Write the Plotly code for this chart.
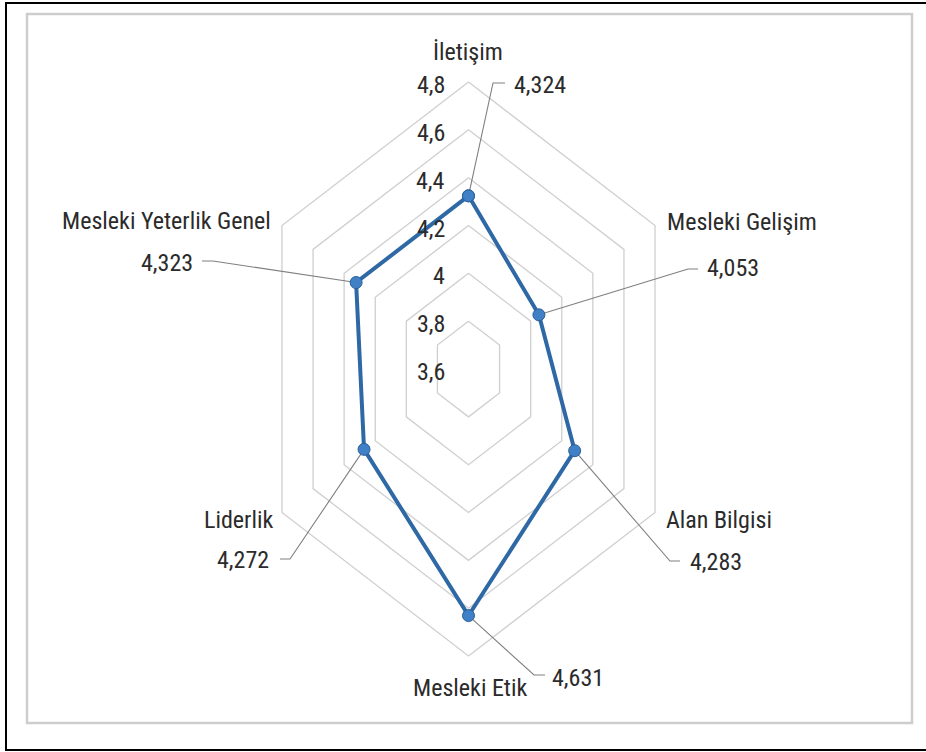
import math
import plotly.graph_objects as go

# ---- data ----
categories = ["İletişim", "Mesleki Gelişim", "Alan Bilgisi", "Mesleki Etik", "Liderlik", "Mesleki Yeterlik Genel"]
values = [4.324, 4.053, 4.283, 4.631, 4.272, 4.323]
value_labels = ["4,324", "4,053", "4,283", "4,631", "4,272", "4,323"]
tick_values = [3.8, 4.0, 4.2, 4.4, 4.6, 4.8]
tick_labels = ["3,6", "3,8", "4", "4,2", "4,4", "4,6", "4,8"]
tick_label_values = [3.6, 3.8, 4.0, 4.2, 4.4, 4.6, 4.8]
r_min, r_max = 3.6, 4.8

# ---- layout / style (pixels) ----
W, H = 926, 752
CX, CY = 468.5, 369.0     # chart centre in pixels
RY = 287.0                # vertical pixel radius of outer ring
RX = 215.4                # horizontal pixel scale (chart is horizontally compressed)
FONT = "Liberation Sans Narrow, Arial Narrow, Roboto Condensed, Roboto, sans-serif"
TXT = "#2b2b2b"
GRID = "#cfcfcf"
LINE = "#2e69a6"
MARK = "#3f80c6"
LEAD = "#7f7f7f"

# category label positions (pixel anchor, xanchor)
cat_pos = [(468, 52, "center"), (665, 222, "left"), (664, 520, "left"),
           (470, 688, "center"), (275, 520, "right"), (273, 221, "right")]
# value label positions
val_pos = [(512, 85, "left"), (705, 268, "left"), (688, 562, "left"),
           (550, 678, "left"), (271, 560, "right"), (195, 263, "right")]
# leader line elbow & end in pixels
lead_pts = [[(493, 83), (505, 83)], [(688, 269), (698, 269)], [(670, 561), (680, 561)],
            [(534, 675), (545, 675)], [(290, 559), (280, 559)], [(213, 261), (202, 261)]]

n = len(categories)
angles = [math.radians(360 * i / n) for i in range(n)]


def to_xy(v, a):
    rho = (v - r_min) / (r_max - r_min)
    return rho * math.sin(a), rho * math.cos(a)


def px_to_xy(px, py):
    return (px - CX) / RX, (CY - py) / RY


fig = go.Figure()

# grid hexagons
for tv in tick_values:
    pts = [to_xy(tv, a) for a in angles] + [to_xy(tv, angles[0])]
    fig.add_trace(go.Scatter(x=[p[0] for p in pts], y=[p[1] for p in pts], mode="lines",
                             line=dict(color=GRID, width=1.3), hoverinfo="skip", showlegend=False))

# leader lines
for i in range(n):
    x0, y0 = to_xy(values[i], angles[i])
    pts = [(x0, y0)] + [px_to_xy(*p) for p in lead_pts[i]]
    fig.add_trace(go.Scatter(x=[p[0] for p in pts], y=[p[1] for p in pts], mode="lines",
                             line=dict(color=LEAD, width=1.1), hoverinfo="skip", showlegend=False))

# series
sp = [to_xy(v, a) for v, a in zip(values, angles)]
sp.append(sp[0])
fig.add_trace(go.Scatter(x=[p[0] for p in sp], y=[p[1] for p in sp], mode="lines+markers",
                         line=dict(color=LINE, width=4),
                         marker=dict(size=12, color=MARK, line=dict(color="#2a5f98", width=1)),
                         showlegend=False))

ann = []
for (px, py, xa), t in zip(cat_pos, categories):
    ann.append(dict(x=px / W, y=1 - py / H, xref="paper", yref="paper", text=t, showarrow=False,
                    xanchor=xa, yanchor="middle", font=dict(family=FONT, size=24, color=TXT)))
for (px, py, xa), t in zip(val_pos, value_labels):
    ann.append(dict(x=px / W, y=1 - py / H, xref="paper", yref="paper", text=t, showarrow=False,
                    xanchor=xa, yanchor="middle", font=dict(family=FONT, size=24, color=TXT)))
for tv, tl in zip(tick_label_values, tick_labels):
    ann.append(dict(x=447 / W, xref="paper", y=to_xy(tv, 0)[1], yref="y", text=tl, showarrow=False,
                    xanchor="right", yanchor="middle", yshift=-3,
                    font=dict(family=FONT, size=24, color=TXT)))

# outer black frame (left, top, bottom only; right edge lies beyond the image)
fx0, fy0, fy1 = 6 / W, 1 - 3 / H, 1 - 750 / H
shapes = [
    dict(type="path", xref="paper", yref="paper",
         path=f"M 1.02 {fy0} L {fx0} {fy0} L {fx0} {fy1} L 1.02 {fy1}",
         line=dict(color="#000000", width=2)),
    dict(type="rect", xref="paper", yref="paper", x0=27 / W, x1=912 / W, y0=1 - 723 / H, y1=1 - 14 / H,
         line=dict(color="#cdcdcd", width=2.5)),
]

fig.update_layout(
    width=W, height=H, margin=dict(l=0, r=0, t=0, b=0),
    paper_bgcolor="white", plot_bgcolor="white",
    xaxis=dict(range=[-CX / RX, (W - CX) / RX], visible=False, fixedrange=True),
    yaxis=dict(range=[-(H - CY) / RY, CY / RY], visible=False, fixedrange=True),
    annotations=ann, shapes=shapes,
)

fig.write_html("out.html")
